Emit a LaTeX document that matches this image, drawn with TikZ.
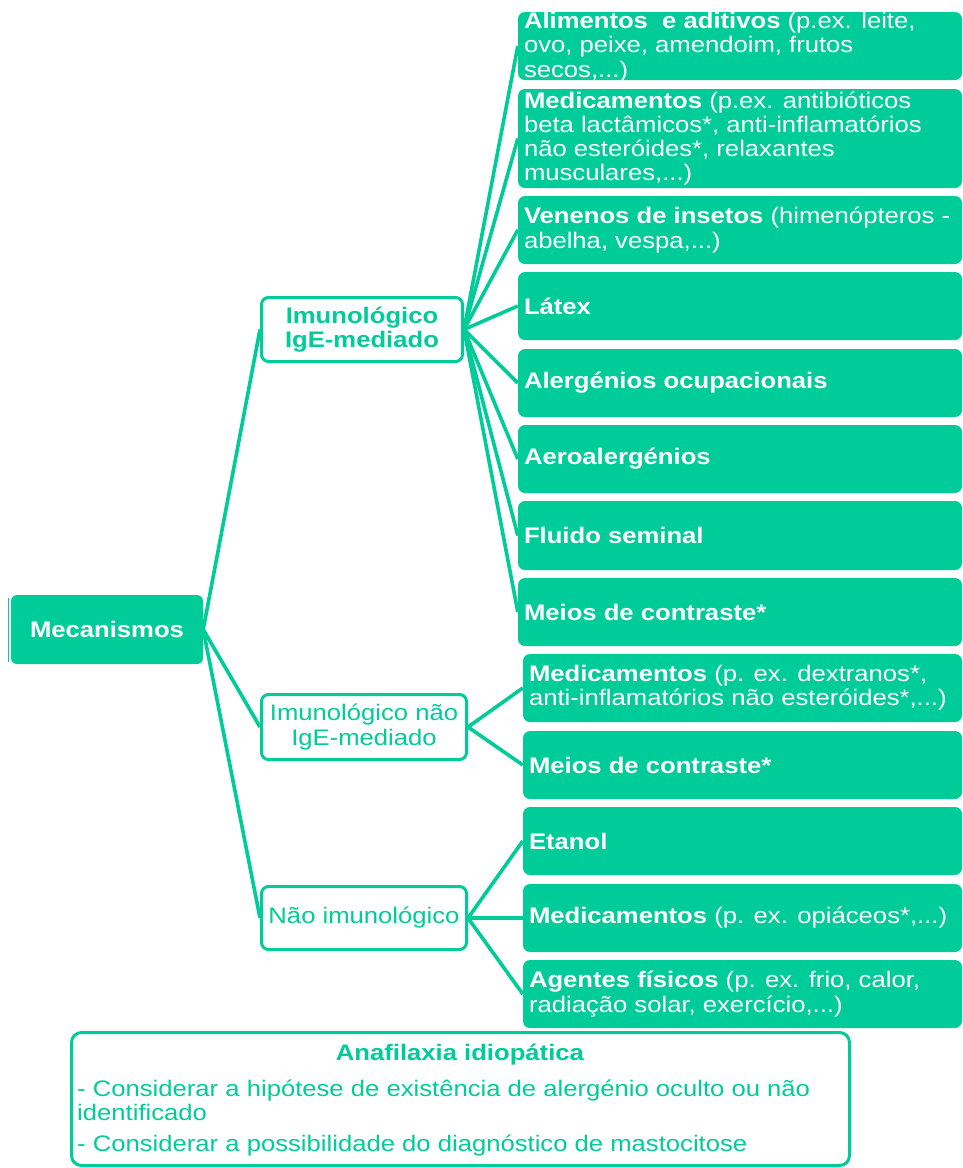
\documentclass[tikz,border=0pt]{standalone}
\usepackage{fontspec}
\setmainfont{Liberation Sans}[FakeStretch=1.14]
\definecolor{mg}{HTML}{00CC99}
\begin{document}
\begin{tikzpicture}[x=1pt,y=-1pt,
  fbox/.style={fill=mg, draw=none, rounded corners=7pt, inner sep=0pt, minimum width=#1},
  fbox/.default=444pt,
  wbox/.style={draw=mg, line width=3pt, fill=white, rounded corners=7pt, inner sep=0pt},
  txt/.style={inner sep=0pt, align=left, text=white, font=\fontsize{22.5}{24.3}\selectfont},
  gtxt/.style={inner sep=0pt, align=center, text=mg, font=\fontsize{22.5}{24.3}\selectfont},
  link/.style={draw=mg, line width=3.6pt}
]
\useasboundingbox (0,0) rectangle (963,1168);

% root
\draw[mg, line width=1.2pt] (8.5,598) -- (8.5,662);
\node[fbox=192pt, minimum height=69pt, rounded corners=6pt] (root) at (107,629.5) {};
\node[txt, align=center] (troot) at (root.center) {\textbf{Mecanismos}};

% level 1
\node[wbox, minimum width=201pt, minimum height=64pt] (ige) at (362,329.5) {};
\node[gtxt] (tige) at (ige.center) {\textbf{Imunológico}\\\textbf{IgE-mediado}};
\node[wbox, minimum width=205pt, minimum height=65pt] (nige) at (364,727) {};
\node[gtxt] (tnige) at (nige.center) {Imunológico não\\IgE-mediado};
\node[wbox, minimum width=205pt, minimum height=63pt] (nimu) at (364,918) {};
\node[gtxt] (tnimu) at (nimu.center) {Não imunológico};

% IgE leaves
\node[fbox, minimum height=68pt] (b1) at (740,46) {};
\node[fbox, minimum height=99pt] (b2) at (740,138.5) {};
\node[fbox, minimum height=68pt] (b3) at (740,230) {};
\node[fbox, minimum height=68pt] (b4) at (740,306) {};
\node[fbox, minimum height=68pt] (b5) at (740,383) {};
\node[fbox, minimum height=68pt] (b6) at (740,459) {};
\node[fbox, minimum height=69pt] (b7) at (740,535.5) {};
\node[fbox, minimum height=68pt] (b8) at (740,612) {};
% other leaves
\node[fbox=439pt, minimum height=68pt] (b9) at (742.5,688) {};
\node[fbox=439pt, minimum height=68pt] (b10) at (742.5,765) {};
\node[fbox=439pt, minimum height=68pt] (b11) at (742.5,841) {};
\node[fbox=439pt, minimum height=68pt] (b12) at (742.5,918) {};
\node[fbox=439pt, minimum height=68pt] (b13) at (742.5,994) {};

\node[txt, anchor=west] (t1) at ([xshift=6pt,yshift=-1pt]b1.west) {\textbf{Alimentos\ \ e aditivos} (p.ex. leite,\\ovo, peixe, amendoim, frutos\\secos,...)};
\node[txt, anchor=west] (t2) at ([xshift=6pt]b2.west) {\textbf{Medicamentos} (p.ex. antibióticos\\beta lactâmicos*, anti-inflamatórios\\não esteróides*, relaxantes\\musculares,...)};
\node[txt, anchor=west] (t3) at ([xshift=6pt]b3.west) {\textbf{Venenos de insetos} (himenópteros -\\abelha, vespa,...)};
\node[txt, anchor=west] (t4) at ([xshift=6pt]b4.west) {\textbf{Látex}};
\node[txt, anchor=west] (t5) at ([xshift=6pt]b5.west) {\textbf{Alergénios ocupacionais}};
\node[txt, anchor=west] (t6) at ([xshift=6pt]b6.west) {\textbf{Aeroalergénios}};
\node[txt, anchor=west] (t7) at ([xshift=6pt]b7.west) {\textbf{Fluido seminal}};
\node[txt, anchor=west] (t8) at ([xshift=6pt]b8.west) {\textbf{Meios de contraste*}};
\node[txt, anchor=west] (t9) at ([xshift=6pt]b9.west) {\textbf{Medicamentos} (p. ex. dextranos*,\\anti-inflamatórios não esteróides*,...)};
\node[txt, anchor=west] (t10) at ([xshift=6pt]b10.west) {\textbf{Meios de contraste*}};
\node[txt, anchor=west] (t11) at ([xshift=6pt]b11.west) {\textbf{Etanol}};
\node[txt, anchor=west] (t12) at ([xshift=6pt]b12.west) {\textbf{Medicamentos} (p. ex. opiáceos*,...)};
\node[txt, anchor=west] (t13) at ([xshift=6pt]b13.west) {\textbf{Agentes físicos} (p. ex. frio, calor,\\radiação solar, exercício,...)};

% connectors
\foreach \c in {ige,nige,nimu} \draw[link] (root.east) -- (\c.west);
\foreach \c in {b1,b2,b3,b4,b5,b6,b7,b8} \draw[link] (ige.east) -- (\c.west);
\foreach \c in {b9,b10} \draw[link] (nige.east) -- (\c.west);
\foreach \c in {b11,b12,b13} \draw[link] (nimu.east) -- (\c.west);

% bottom note
\node[wbox, rounded corners=10pt, minimum width=778pt, minimum height=133pt] (note) at (460.5,1099) {};
\node[gtxt] (ntitle) at (460,1055) {\textbf{Anafilaxia idiopática}};
\node[gtxt, align=left, anchor=west] (nl1) at ([xshift=7pt]note.west |- 0,1100) {- Considerar a hipótese de existência de alergénio oculto ou não\\identificado};
\node[gtxt, align=left, anchor=west] (nl2) at ([xshift=7pt]note.west |- 0,1146) {- Considerar a possibilidade do diagnóstico de mastocitose};
\end{tikzpicture}
\end{document}
